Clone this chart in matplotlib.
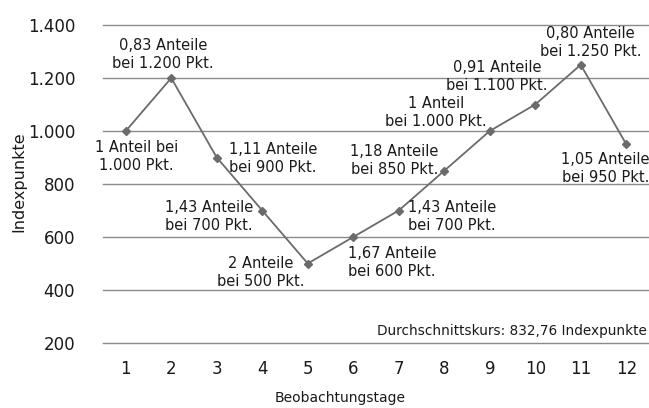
import matplotlib
matplotlib.use("Agg")
import matplotlib.pyplot as plt

days = [1, 2, 3, 4, 5, 6, 7, 8, 9, 10, 11, 12]
index_points = [1000, 1200, 900, 700, 500, 600, 700, 850, 1000, 1100, 1250, 950]
labels = [
    "1 Anteil bei\n1.000 Pkt.",
    "0,83 Anteile\nbei 1.200 Pkt.",
    "1,11 Anteile\nbei 900 Pkt.",
    "1,43 Anteile\nbei 700 Pkt.",
    "2 Anteile\nbei 500 Pkt.",
    "1,67 Anteile\nbei 600 Pkt.",
    "1,43 Anteile\nbei 700 Pkt.",
    "1,18 Anteile\nbei 850 Pkt.",
    "1 Anteil\nbei 1.000 Pkt.",
    "0,91 Anteile\nbei 1.100 Pkt.",
    "0,80 Anteile\nbei 1.250 Pkt.",
    "1,05 Anteile\nbei 950 Pkt.",
]
# label offsets in pixels (dx right, dy up)
offsets = [(11, -26), (-8, 23), (56, -1), (-53, -6), (-47, -9), (39, -26),
           (53, -6), (-50, 10), (-54, 18), (-38, 28), (10, 22), (-21, -24)]
y_ticks = [200, 400, 600, 800, 1000, 1200, 1400]
y_tick_labels = ["200", "400", "600", "800", "1.000", "1.200", "1.400"]
note = "Durchschnittskurs: 832,76 Indexpunkte"

plt.rcParams['font.family'] = ['DejaVu Sans']
fig = plt.figure(figsize=(6.49, 4.08), dpi=100)
ax = fig.add_axes([103/649, 1-343/408, 546/649, 318/408])

ax.plot(days, index_points, color="#6b6b6b", linewidth=1.3, marker="D",
        markersize=4, markerfacecolor="#6b6b6b", markeredgecolor="#6b6b6b", zorder=3)

for x, y, lab, (dx, dy) in zip(days, index_points, labels, offsets):
    ax.annotate(lab, (x, y), xytext=(dx, dy), textcoords="offset pixels",
                ha="center", va="center", fontsize=10.5, color="#1a1a1a",
                linespacing=1.25)

ax.set_xlim(0.5, 12.5)
ax.set_ylim(200, 1400)
ax.set_yticks(y_ticks)
ax.set_yticklabels(y_tick_labels)
ax.set_xticks(days)
ax.grid(axis="y", color="#8a8a8a", linewidth=1.0)
for gl in ax.yaxis.get_gridlines():
    gl.set_clip_on(False)
ax.set_axisbelow(True)
for s in ax.spines.values():
    s.set_visible(False)
ax.tick_params(axis="both", length=0, labelsize=12, colors="#1a1a1a")
ax.tick_params(axis="y", pad=20)
ax.tick_params(axis="x", pad=12)

ax.text(0.997, (343 - 331) / 318, note, transform=ax.transAxes, ha="right",
        va="center", fontsize=9.8, color="#1a1a1a")

fig.text(19/649, 1-182/408, "Indexpunkte", rotation=90, ha="center", va="center",
         fontsize=11.5, color="#1a1a1a")
fig.text(340/649, 1-398/408, "Beobachtungstage", ha="center", va="center",
         fontsize=10, color="#1a1a1a")

fig.savefig("out.png", dpi=100)
